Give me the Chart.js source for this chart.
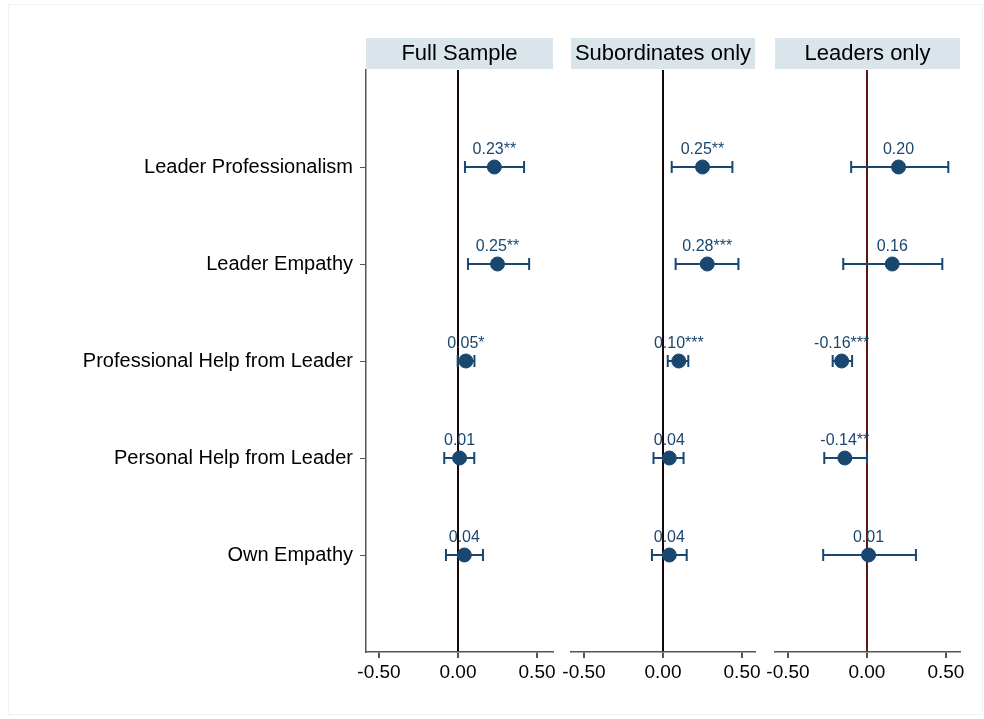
<!DOCTYPE html>
<html>
<head>
<meta charset="utf-8">
<script src="https://cdn.jsdelivr.net/npm/chart.js@4/dist/chart.umd.min.js"></script>
<style>
  html, body { margin: 0; padding: 0; background: #fff; }
  #wrap { position: relative; width: 984px; height: 719px; }
  #frame { position: absolute; left: 8px; top: 4px; width: 975px; height: 711px; border: 1px solid #eef3f3; box-sizing: border-box; }
  canvas { position: absolute; left: 0; top: 0; }
</style>
</head>
<body>
<div id="wrap">
  <div id="frame"></div>
  <canvas id="p1" width="984" height="719"></canvas>
  <canvas id="p2" width="984" height="719"></canvas>
  <canvas id="p3" width="984" height="719"></canvas>
</div>
<script>
const categories = [
  "Leader Professionalism",
  "Leader Empathy",
  "Professional Help from Leader",
  "Personal Help from Leader",
  "Own Empathy"
];
const panelTitles = ["Full Sample", "Subordinates only", "Leaders only"];
const xTicks = [-0.5, 0, 0.5];

// coefficients, confidence limits and star labels per panel
const fullCoef = [0.23, 0.25, 0.05, 0.01, 0.04];
const fullLo   = [0.044, 0.063, -0.002, -0.087, -0.076];
const fullHi   = [0.418, 0.45, 0.104, 0.103, 0.158];
const fullStars = ["**", "**", "*", "", ""];

const subCoef = [0.25, 0.28, 0.10, 0.04, 0.04];
const subLo   = [0.055, 0.08, 0.03, -0.06, -0.07];
const subHi   = [0.439, 0.477, 0.16, 0.13, 0.15];
const subStars = ["**", "***", "***", "", ""];

const leadCoef = [0.20, 0.16, -0.16, -0.14, 0.01];
const leadLo   = [-0.10, -0.15, -0.217, -0.27, -0.277];
const leadHi   = [0.515, 0.477, -0.094, 0.0, 0.31];
const leadStars = ["", "", "***", "**", ""];

const navy = "#1a476f";
const font = "'Liberation Sans', Arial, Helvetica, sans-serif";

const errorBars = {
  id: "errorBars",
  beforeDatasetsDraw(chart, args, opts) {
    const { ctx, scales: { x, y } } = chart;
    ctx.save();
    ctx.strokeStyle = navy;
    ctx.lineWidth = 2;
    opts.lo.forEach((lo, i) => {
      const yy = y.getPixelForValue(i + 1);
      const x1 = x.getPixelForValue(lo);
      const x2 = x.getPixelForValue(opts.hi[i]);
      ctx.beginPath();
      ctx.moveTo(x1, yy); ctx.lineTo(x2, yy);
      ctx.moveTo(x1, yy - 6); ctx.lineTo(x1, yy + 6);
      ctx.moveTo(x2, yy - 6); ctx.lineTo(x2, yy + 6);
      ctx.stroke();
    });
    ctx.restore();
  },
  afterDatasetsDraw(chart, args, opts) {
    const { ctx, scales: { x, y } } = chart;
    ctx.save();
    ctx.fillStyle = navy;
    ctx.font = "16px " + font;
    ctx.textAlign = "center";
    ctx.textBaseline = "alphabetic";
    opts.coef.forEach((c, i) => {
      ctx.fillText(c.toFixed(2) + opts.stars[i], x.getPixelForValue(c), y.getPixelForValue(i + 1) - 13);
    });
    ctx.restore();
  }
};

const panelHeader = {
  id: "panelHeader",
  beforeDraw(chart, args, opts) {
    const { ctx, chartArea } = chart;
    ctx.save();
    ctx.fillStyle = "#d9e5ea";
    ctx.fillRect(chartArea.left, 38, chartArea.right - chartArea.left, 31);
    ctx.fillStyle = "#000";
    ctx.font = "22px " + font;
    ctx.textAlign = "center";
    ctx.textBaseline = "middle";
    ctx.fillText(opts.text, (chartArea.left + chartArea.right) / 2, 54);
    ctx.restore();
  }
};

function makePanel(id, idx, coef, lo, hi, stars, left, right, zeroColor, xmin, xmax) {
  const first = idx === 0;
  return new Chart(document.getElementById(id), {
    type: "scatter",
    data: {
      datasets: [{
        data: coef.map((c, i) => ({ x: c, y: i + 1 })),
        backgroundColor: navy,
        borderColor: navy,
        pointRadius: 7,
        pointHoverRadius: 7
      }]
    },
    plugins: [errorBars, panelHeader],
    options: {
      responsive: false,
      animation: false,
      layout: { padding: { left: first ? 0 : left, right: 984 - right, top: 70, bottom: 0 } },
      plugins: {
        legend: { display: false },
        tooltip: { enabled: false },
        errorBars: { lo: lo, hi: hi, coef: coef, stars: stars },
        panelHeader: { text: panelTitles[idx] }
      },
      scales: {
        x: {
          type: "linear",
          min: xmin,
          max: xmax,
          afterBuildTicks: s => { s.ticks = xTicks.map(v => ({ value: v })); },
          afterFit: s => { s.height = 67; },
          border: { color: "#555", width: 1.5 },
          grid: {
            drawOnChartArea: true,
            color: c => c.tick && c.tick.value === 0 ? zeroColor : "rgba(0,0,0,0)",
            lineWidth: 2,
            tickLength: 6,
            tickColor: "#555"
          },
          ticks: {
            color: "#000",
            font: { family: font, size: 19 },
            padding: 3,
            maxRotation: 0,
            callback: v => v.toFixed(2)
          }
        },
        y: {
          type: "linear",
          display: first,
          reverse: true,
          min: 0,
          max: 6,
          afterBuildTicks: s => { s.ticks = categories.map((c, i) => ({ value: i + 1 })); },
          afterFit: s => { if (first) s.width = left; },
          border: { color: "#555", width: 1.5 },
          grid: { drawOnChartArea: false, tickLength: 6, tickColor: "#555" },
          ticks: {
            color: "#000",
            font: { family: font, size: 20 },
            padding: 7,
            callback: v => categories[v - 1]
          }
        }
      }
    }
  });
}

makePanel("p1", 0, fullCoef, fullLo, fullHi, fullStars, 366, 553, "#1a0808", -0.582, 0.601);
makePanel("p2", 1, subCoef, subLo, subHi, subStars, 571, 755, "#120606", -0.582, 0.582);
makePanel("p3", 2, leadCoef, leadLo, leadHi, leadStars, 775, 960, "#5a1818", -0.582, 0.589);
</script>
</body>
</html>
